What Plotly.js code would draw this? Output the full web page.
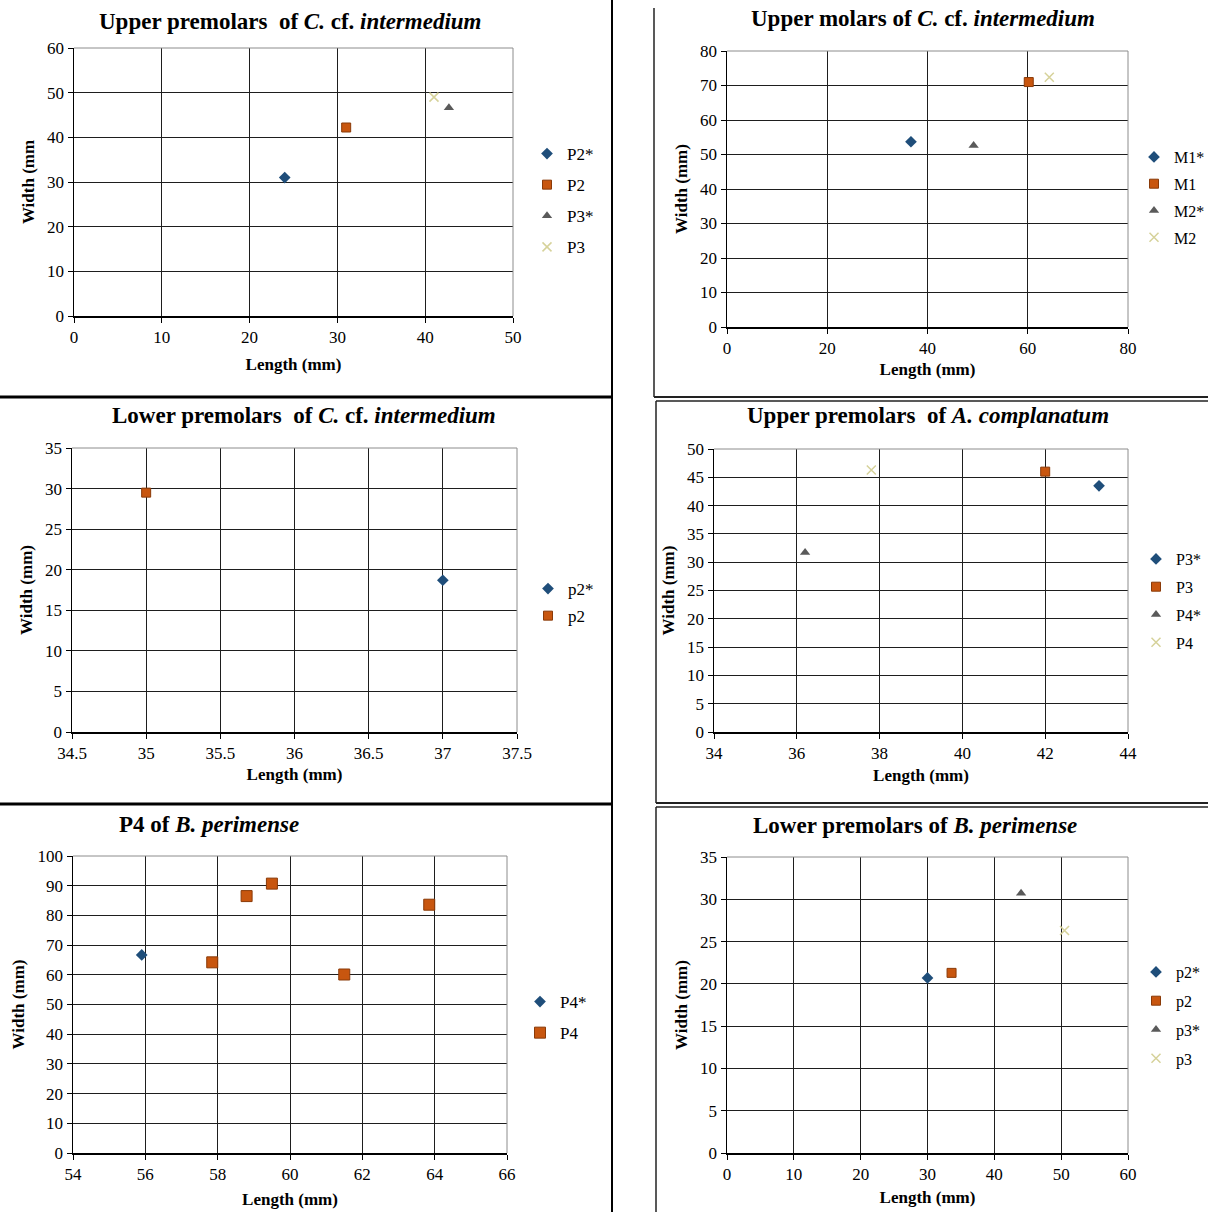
<!DOCTYPE html>
<html>
<head>
<meta charset="utf-8">
<script src="https://cdn.plot.ly/plotly-3.0.1.min.js"></script>
<style>html,body{margin:0;padding:0;background:#fff;overflow:hidden;width:1208px;height:1212px}#chart{display:block;width:1208px;height:1212px}</style>
</head>
<body>
<div id="chart"></div>
<script>
// ---- Panel 1: Upper premolars of C. cf. intermedium ----
const p1Names = ["P2*", "P2", "P3*", "P3"];
const p1X = [24.0, 31.0, 42.7, 41.0];
const p1Y = [31.0, 42.2, 46.6, 49.0];
// ---- Panel 2: Upper molars of C. cf. intermedium ----
const p2Names = ["M1*", "M1", "M2*", "M2"];
const p2X = [36.7, 60.2, 49.2, 64.3];
const p2Y = [53.7, 71.0, 52.6, 72.4];
// ---- Panel 3: Lower premolars of C. cf. intermedium ----
const p3Names = ["p2*", "p2"];
const p3X = [37.0, 35.0];
const p3Y = [18.7, 29.5];
// ---- Panel 4: Upper premolars of A. complanatum ----
const p4Names = ["P3*", "P3", "P4*", "P4"];
const p4X = [43.3, 42.0, 36.2, 37.8];
const p4Y = [43.5, 46.0, 31.7, 46.3];
// ---- Panel 5: P4 of B. perimense ----
const p5StarX = [55.9];
const p5StarY = [66.7];
const p5X = [57.85, 58.8, 59.5, 61.5, 63.85];
const p5Y = [64.2, 86.5, 90.7, 60.1, 83.6];
const p5Names = ["P4*", "P4"];
// ---- Panel 6: Lower premolars of B. perimense ----
const p6Names = ["p2*", "p2", "p3*", "p3"];
const p6X = [30.0, 33.6, 44.0, 50.5];
const p6Y = [20.7, 21.3, 30.7, 26.3];

// ranges and ticks
const ranges = {
  x1: [0, 50, 10], y1: [0, 60, 10],
  x2: [0, 80, 20], y2: [0, 80, 10],
  x3: [34.5, 37.5, 0.5], y3: [0, 35, 5],
  x4: [34, 44, 2], y4: [0, 50, 5],
  x5: [54, 66, 2], y5: [0, 100, 10],
  x6: [0, 60, 10], y6: [0, 35, 5]
};
const titles = [
  "<b>Upper premolars  of <i>C.</i> cf. <i>intermedium</i></b>",
  "<b>Upper molars of <i>C.</i> cf. <i>intermedium</i></b>",
  "<b>Lower premolars  of <i>C.</i> cf. <i>intermedium</i></b>",
  "<b>Upper premolars  of <i>A. complanatum</i></b>",
  "<b>P4 of <i>B. perimense</i></b>",
  "<b>Lower premolars of <i>B. perimense</i></b>"
];
const yTitles = ["Width (mm", "Width (mm)", "Width (mm)", "Width (mm)", "Width (mm)", "Width (mm)"];

const W = 1208, H = 1212;
const fx = v => v / W;
const fy = v => 1 - v / H;

// plot-area pixel boxes [left, right, top, bottom]
const boxes = [
  [74, 513, 48, 316],
  [727, 1128, 51, 327],
  [72, 517, 448, 732],
  [714, 1128, 449, 732],
  [73, 507, 856, 1153],
  [727, 1128, 857, 1153]
];
const xStandoff = [12, 6, 6, 7, 10, 8];
const titlePos = [[290, 21], [923, 18], [304, 415], [928, 416], [209, 824], [915, 825]];
const legendPos = [[527, 136], [1134, 140], [528, 571], [1136, 542], [520, 984], [1136, 955]];
const legendFont = [17, 16, 17, 16, 17, 16];
const legendGap = [6, 3, 2, 4, 6, 5];

const styles = [
  {symbol: "diamond", color: "#1F4E7A", size: 9, line: {width: 0}},
  {symbol: "square", color: "#C8560F", size: 9, line: {color: "#8A3A08", width: 1}},
  {symbol: "triangle-up", color: "#5A5A5A", size: 9, line: {width: 0}},
  {symbol: "x-thin", color: "#D6D29A", size: 9, line: {color: "#D6D29A", width: 1.5}}
];

const serif = "Liberation Serif";
const traces = [];
function addTrace(panel, name, xs, ys, styleIdx, bigger) {
  const s = styles[styleIdx];
  const m = {symbol: s.symbol, color: s.color, size: s.size + (bigger || 0), line: s.line};
  traces.push({
    type: "scatter", mode: "markers", name: name,
    x: xs, y: ys,
    xaxis: "x" + (panel === 1 ? "" : panel), yaxis: "y" + (panel === 1 ? "" : panel),
    legend: panel === 1 ? "legend" : "legend" + panel,
    legendgroup: "g" + panel + "_" + name,
    marker: m, hoverinfo: "x+y+name"
  });
}
[[1, p1Names, p1X, p1Y], [2, p2Names, p2X, p2Y], [4, p4Names, p4X, p4Y], [6, p6Names, p6X, p6Y]].forEach(([pn, names, xs, ys]) => {
  names.forEach((n, i) => addTrace(pn, n, [xs[i]], [ys[i]], i));
});
p3Names.forEach((n, i) => addTrace(3, n, [p3X[i]], [p3Y[i]], i));
addTrace(5, p5Names[0], p5StarX, p5StarY, 0);
addTrace(5, p5Names[1], p5X, p5Y, 1, 2);

const layout = {
  width: W, height: H,
  margin: {l: 0, r: 0, t: 0, b: 0, autoexpand: false},
  paper_bgcolor: "#fff", plot_bgcolor: "#fff",
  font: {family: serif, color: "#000", size: 16},
  showlegend: true,
  annotations: [],
  shapes: []
};

for (let i = 0; i < 6; i++) {
  const k = i + 1;
  const [l, r, t, b] = boxes[i];
  const xr = ranges["x" + k], yr = ranges["y" + k];
  const axCommon = {
    showgrid: true, gridcolor: "#1e1e1e", gridwidth: 1,
    showline: true, linecolor: "#000", linewidth: 1.5,
    ticks: "outside", ticklen: 5, tickcolor: "#000", tickwidth: 1,
    zeroline: false, fixedrange: true, automargin: false,
    tickfont: {family: serif, size: 17, color: "#000"}
  };
  layout["xaxis" + (k === 1 ? "" : k)] = Object.assign({}, axCommon, {
    domain: [fx(l), fx(r)], range: [xr[0], xr[1]], tick0: xr[0], dtick: xr[2],
    anchor: "y" + (k === 1 ? "" : k),
    title: {text: "<b>Length (mm)</b>", font: {family: serif, size: 17, color: "#000"}, standoff: xStandoff[i]}
  });
  layout["yaxis" + (k === 1 ? "" : k)] = Object.assign({}, axCommon, {
    domain: [fy(b), fy(t)], range: [yr[0], yr[1]], tick0: yr[0], dtick: yr[2],
    anchor: "x" + (k === 1 ? "" : k),
    title: {text: "<b>" + yTitles[i] + "</b>", font: {family: serif, size: 17, color: "#000"}, standoff: 8}
  });
  layout.annotations.push({
    text: titles[i], xref: "paper", yref: "paper",
    x: fx(titlePos[i][0]), y: fy(titlePos[i][1]), xanchor: "center", yanchor: "middle",
    showarrow: false, font: {family: serif, size: 23, color: "#000"}
  });
  layout[k === 1 ? "legend" : "legend" + k] = {
    x: fx(legendPos[i][0]), y: fy(legendPos[i][1]), xanchor: "left", yanchor: "top",
    xref: "paper", yref: "paper",
    bgcolor: "rgba(0,0,0,0)", borderwidth: 0,
    font: {family: serif, size: legendFont[i], color: "#000"},
    itemwidth: 30, tracegroupgap: legendGap[i], traceorder: "grouped", itemclick: false, itemdoubleclick: false
  };
  // grey border on top/right of plot area
  layout.shapes.push({type: "line", xref: "paper", yref: "paper", x0: fx(l), x1: fx(r), y0: fy(t), y1: fy(t), line: {color: "#8c8c8c", width: 1}});
  layout.shapes.push({type: "line", xref: "paper", yref: "paper", x0: fx(r), x1: fx(r), y0: fy(t), y1: fy(b), line: {color: "#8c8c8c", width: 1}});
}

// panel separators
const sep = (x0, y0, x1, y1, w, c) => layout.shapes.push({type: "line", xref: "paper", yref: "paper", x0: fx(x0), y0: fy(y0), x1: fx(x1), y1: fy(y1), line: {color: c || "#000", width: w}});
sep(612, 0, 612, 1212, 2);
sep(0, 397, 612, 397, 3);
sep(0, 804, 612, 804, 3);
sep(654, 8, 654, 397, 1.5, "#222");
sep(654, 397, 1208, 397, 2, "#222");
sep(656, 401, 1208, 401, 1.5, "#222");
sep(656, 401, 656, 803, 1.5, "#222");
sep(656, 803, 1208, 803, 2, "#222");
sep(656, 807, 1208, 807, 1.5, "#222");
sep(656, 807, 656, 1212, 1.5, "#222");

Plotly.newPlot("chart", traces, layout, {staticPlot: true, displayModeBar: false});
</script>
</body>
</html>
